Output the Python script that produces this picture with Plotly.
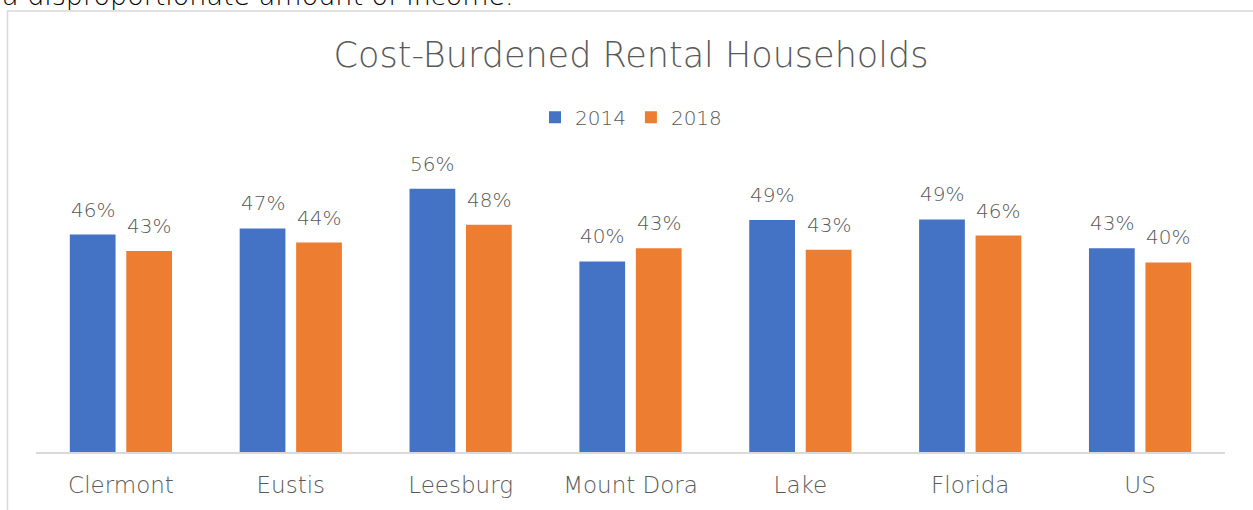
import plotly.graph_objects as go

categories = ["Clermont", "Eustis", "Leesburg", "Mount Dora", "Lake", "Florida", "US"]
series_names = ["2014", "2018"]
values_2014 = [0.461, 0.474, 0.558, 0.404, 0.492, 0.493, 0.432]
values_2018 = [0.426, 0.444, 0.482, 0.432, 0.429, 0.459, 0.402]
colors = ["#4472C4", "#ED7D31"]
title_text = "Cost-Burdened Rental Households"
intro_text = "a disproportionate amount of income."

FONT = "DejaVu Sans, Lato, sans-serif"
GRAY = "#595959"

# pixel geometry helpers (plot area: x 36..1225, y 169..454)
L, R, T, B = 36, 28, 169, 56
W, H = 1253, 510
PW, PH = W - L - R, H - T - B


def px(x):
    return (x - L) / PW


def py(y):
    return (H - B - y) / PH


fig = go.Figure()
for name, vals, col in zip(series_names, [values_2014, values_2018], colors):
    fig.add_trace(go.Bar(
        name=name, x=categories, y=vals, marker=dict(color=col, line=dict(width=0)),
        hoverinfo="skip",
    ))

slot_half = 28.25
annotations = []
for i, vals in enumerate([values_2014, values_2018]):
    shift = -slot_half if i == 0 else slot_half
    for c, v in zip(categories, vals):
        annotations.append(dict(
            x=c, y=v, xref="x", yref="y", text=f"{round(v * 100):d}%",
            showarrow=False, xshift=shift, yshift=11, yanchor="bottom",
            font=dict(family=FONT, size=20, color=GRAY, weight=300),
        ))

annotations.append(dict(
    x=px(0), y=py(12), xref="paper", yref="paper", xanchor="left", yanchor="bottom",
    text=intro_text, showarrow=False,
    font=dict(family=FONT, size=27, color="#000000", weight=300),
))

fig.update_layout(
    width=W, height=H,
    margin=dict(l=L, r=R, t=T, b=B),
    paper_bgcolor="white", plot_bgcolor="white",
    barmode="group", bargap=0.335, bargroupgap=0.19,
    title=dict(text=title_text, x=px(631), xref="paper", xanchor="center",
               y=1 - 55 / H, yanchor="middle",
               font=dict(family=FONT, size=35, color=GRAY, weight=300)),
    legend=dict(orientation="h", x=px(631), xanchor="center", y=py(117), yanchor="middle",
                font=dict(family=FONT, size=20, color=GRAY, weight=300),
                itemwidth=30, traceorder="normal", bgcolor="rgba(0,0,0,0)"),
    xaxis=dict(showline=True, linecolor="#D9D9D9", linewidth=2, showgrid=False,
               ticks="", tickfont=dict(family=FONT, size=23, color=GRAY, weight=300),
               ticklabelstandoff=11, zeroline=False),
    yaxis=dict(range=[0, 0.6], visible=False, showgrid=False, zeroline=False),
    annotations=annotations,
    shapes=[dict(type="rect", xref="paper", yref="paper",
                 x0=px(7.5), x1=px(1270), y0=py(530), y1=py(10),
                 line=dict(color="#D9D9D9", width=1.5), fillcolor="rgba(0,0,0,0)",
                 layer="below")],
    showlegend=True,
)

fig.write_html(
    "out.html",
    config={"displayModeBar": False},
    post_script="document.body.style.margin='0';document.body.style.overflow='hidden';",
)
